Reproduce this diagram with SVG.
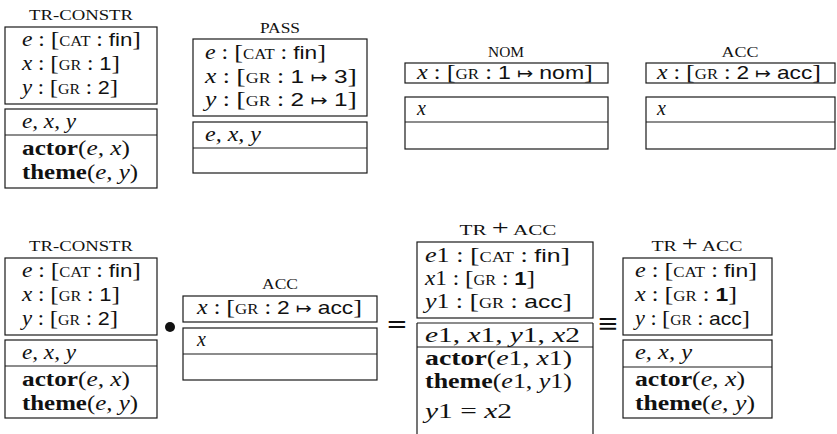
<svg xmlns="http://www.w3.org/2000/svg" width="837" height="434" viewBox="0 0 837 434">
<style>
rect, line.bx { fill:none; stroke:#1a1a1a; stroke-width:1.2; }
.t { font-family:"Liberation Serif", serif; font-size:20px; fill:#111; }
.i { font-style:italic; }
.sc { font-size:14px; }
.sf { font-family:"Liberation Sans", sans-serif; font-size:19px; }
.ar { font-family:"DejaVu Sans", sans-serif; font-size:16px; }
.b { font-weight:bold; }
.br { font-size:22px; }
.lbl { font-family:"Liberation Serif", serif; font-size:14px; fill:#111; text-anchor:middle; }
.op { font-family:"DejaVu Serif", serif; font-size:26px; fill:#111; text-anchor:middle; }
</style>

<!-- top row -->
<g id="tr-constr-1">
  <text class="lbl" x="81" y="20" textLength="104" lengthAdjust="spacingAndGlyphs">TR-CONSTR</text>
  <rect x="5" y="27" width="152" height="77"/>
  <rect x="5" y="109" width="152" height="79"/>
  <line class="bx" x1="5" y1="135" x2="157" y2="135"/>
  <text class="t" x="22" y="46" textLength="119" lengthAdjust="spacingAndGlyphs"><tspan class="i">e</tspan> : <tspan class="br">[</tspan><tspan class="sc">CAT</tspan> : <tspan class="sf">fin</tspan><tspan class="br">]</tspan></text>
  <text class="t" x="22" y="70" textLength="98" lengthAdjust="spacingAndGlyphs"><tspan class="i">x</tspan> : <tspan class="br">[</tspan><tspan class="sc">GR</tspan> : <tspan class="sf">1</tspan><tspan class="br">]</tspan></text>
  <text class="t" x="22" y="94" textLength="96" lengthAdjust="spacingAndGlyphs"><tspan class="i">y</tspan> : <tspan class="br">[</tspan><tspan class="sc">GR</tspan> : <tspan class="sf">2</tspan><tspan class="br">]</tspan></text>
  <text class="t i" x="22" y="128" textLength="54" lengthAdjust="spacingAndGlyphs">e, x, y</text>
  <text class="t" x="22" y="155" textLength="108" lengthAdjust="spacingAndGlyphs"><tspan class="b">actor</tspan>(<tspan class="i">e, x</tspan>)</text>
  <text class="t" x="22" y="179" textLength="116" lengthAdjust="spacingAndGlyphs"><tspan class="b">theme</tspan>(<tspan class="i">e, y</tspan>)</text>
</g>

<g id="pass">
  <text class="lbl" x="280" y="33" textLength="40" lengthAdjust="spacingAndGlyphs">PASS</text>
  <rect x="193" y="39" width="174" height="77"/>
  <rect x="193" y="122" width="174" height="51"/>
  <line class="bx" x1="193" y1="148" x2="367" y2="148"/>
  <text class="t" x="205" y="59" textLength="121" lengthAdjust="spacingAndGlyphs"><tspan class="i">e</tspan> : <tspan class="br">[</tspan><tspan class="sc">CAT</tspan> : <tspan class="sf">fin</tspan><tspan class="br">]</tspan></text>
  <text class="t" x="205" y="83" textLength="152" lengthAdjust="spacingAndGlyphs"><tspan class="i">x</tspan> : <tspan class="br">[</tspan><tspan class="sc">GR</tspan> : <tspan class="sf">1</tspan> <tspan class="ar">↦</tspan> <tspan class="sf">3</tspan><tspan class="br">]</tspan></text>
  <text class="t" x="205" y="106" textLength="152" lengthAdjust="spacingAndGlyphs"><tspan class="i">y</tspan> : <tspan class="br">[</tspan><tspan class="sc">GR</tspan> : <tspan class="sf">2</tspan> <tspan class="ar">↦</tspan> <tspan class="sf">1</tspan><tspan class="br">]</tspan></text>
  <text class="t i" x="205" y="141" textLength="56" lengthAdjust="spacingAndGlyphs">e, x, y</text>
</g>

<g id="nom">
  <text class="lbl" x="506" y="57" textLength="36" lengthAdjust="spacingAndGlyphs">NOM</text>
  <rect x="405" y="63" width="203" height="20"/>
  <rect x="405" y="97" width="203" height="52"/>
  <line class="bx" x1="405" y1="122" x2="608" y2="122"/>
  <text class="t" x="417" y="79" textLength="176" lengthAdjust="spacingAndGlyphs"><tspan class="i">x</tspan> : <tspan class="br">[</tspan><tspan class="sc">GR</tspan> : <tspan class="sf">1</tspan> <tspan class="ar">↦</tspan> <tspan class="sf">nom</tspan><tspan class="br">]</tspan></text>
  <text class="t i" x="417" y="115">x</text>
</g>

<g id="acc-1">
  <text class="lbl" x="740" y="57" textLength="37" lengthAdjust="spacingAndGlyphs">ACC</text>
  <rect x="646" y="63" width="189" height="20"/>
  <rect x="646" y="97" width="189" height="52"/>
  <line class="bx" x1="646" y1="122" x2="835" y2="122"/>
  <text class="t" x="657" y="79" textLength="164" lengthAdjust="spacingAndGlyphs"><tspan class="i">x</tspan> : <tspan class="br">[</tspan><tspan class="sc">GR</tspan> : <tspan class="sf">2</tspan> <tspan class="ar">↦</tspan> <tspan class="sf">acc</tspan><tspan class="br">]</tspan></text>
  <text class="t i" x="657" y="115">x</text>
</g>

<!-- bottom row -->
<g id="tr-constr-2">
  <text class="lbl" x="81" y="251" textLength="104" lengthAdjust="spacingAndGlyphs">TR-CONSTR</text>
  <rect x="5" y="258" width="152" height="77"/>
  <rect x="5" y="340" width="152" height="78"/>
  <line class="bx" x1="5" y1="366" x2="157" y2="366"/>
  <text class="t" x="22" y="277" textLength="119" lengthAdjust="spacingAndGlyphs"><tspan class="i">e</tspan> : <tspan class="br">[</tspan><tspan class="sc">CAT</tspan> : <tspan class="sf">fin</tspan><tspan class="br">]</tspan></text>
  <text class="t" x="22" y="301" textLength="98" lengthAdjust="spacingAndGlyphs"><tspan class="i">x</tspan> : <tspan class="br">[</tspan><tspan class="sc">GR</tspan> : <tspan class="sf">1</tspan><tspan class="br">]</tspan></text>
  <text class="t" x="22" y="325" textLength="96" lengthAdjust="spacingAndGlyphs"><tspan class="i">y</tspan> : <tspan class="br">[</tspan><tspan class="sc">GR</tspan> : <tspan class="sf">2</tspan><tspan class="br">]</tspan></text>
  <text class="t i" x="22" y="359" textLength="54" lengthAdjust="spacingAndGlyphs">e, x, y</text>
  <text class="t" x="22" y="386" textLength="108" lengthAdjust="spacingAndGlyphs"><tspan class="b">actor</tspan>(<tspan class="i">e, x</tspan>)</text>
  <text class="t" x="22" y="410" textLength="116" lengthAdjust="spacingAndGlyphs"><tspan class="b">theme</tspan>(<tspan class="i">e, y</tspan>)</text>
</g>

<g id="operators">
  <circle cx="170" cy="327" r="5" fill="#111"/>
  <text class="op" x="397" y="333">=</text>
  <text class="op" x="608" y="332">≡</text>
</g>

<g id="acc-2">
  <text class="lbl" x="280" y="289" textLength="36" lengthAdjust="spacingAndGlyphs">ACC</text>
  <rect x="183" y="296" width="194" height="26"/>
  <rect x="183" y="328" width="194" height="52"/>
  <line class="bx" x1="183" y1="354" x2="377" y2="354"/>
  <text class="t" x="197" y="314" textLength="165" lengthAdjust="spacingAndGlyphs"><tspan class="i">x</tspan> : <tspan class="br">[</tspan><tspan class="sc">GR</tspan> : <tspan class="sf">2</tspan> <tspan class="ar">↦</tspan> <tspan class="sf">acc</tspan><tspan class="br">]</tspan></text>
  <text class="t i" x="197" y="346">x</text>
</g>

<g id="tr-acc-1">
  <text class="lbl" x="508" y="235" textLength="97" lengthAdjust="spacingAndGlyphs">TR <tspan font-size="20">+</tspan> ACC</text>
  <rect x="417" y="242" width="176" height="76"/>
  <line class="bx" x1="417" y1="323" x2="593" y2="323"/>
  <line class="bx" x1="417" y1="347" x2="593" y2="347"/>
  <line class="bx" x1="417" y1="323" x2="417" y2="434"/>
  <line class="bx" x1="593" y1="323" x2="593" y2="434"/>
  <text class="t" x="425" y="262" textLength="145" lengthAdjust="spacingAndGlyphs"><tspan class="i">e</tspan>1 : <tspan class="br">[</tspan><tspan class="sc">CAT</tspan> : <tspan class="sf">fin</tspan><tspan class="br">]</tspan></text>
  <text class="t" x="425" y="285" textLength="110" lengthAdjust="spacingAndGlyphs"><tspan class="i">x</tspan>1 : <tspan class="br">[</tspan><tspan class="sc">GR</tspan> : <tspan class="sf b">1</tspan><tspan class="br">]</tspan></text>
  <text class="t" x="425" y="308" textLength="147" lengthAdjust="spacingAndGlyphs"><tspan class="i">y</tspan>1 : <tspan class="br">[</tspan><tspan class="sc">GR</tspan> : <tspan class="sf">acc</tspan><tspan class="br">]</tspan></text>
  <text class="t" x="425" y="342" textLength="155" lengthAdjust="spacingAndGlyphs"><tspan class="i">e</tspan>1, <tspan class="i">x</tspan>1, <tspan class="i">y</tspan>1, <tspan class="i">x</tspan>2</text>
  <text class="t" x="425" y="365" textLength="147" lengthAdjust="spacingAndGlyphs"><tspan class="b">actor</tspan>(<tspan class="i">e</tspan>1, <tspan class="i">x</tspan>1)</text>
  <text class="t" x="425" y="388" textLength="147" lengthAdjust="spacingAndGlyphs"><tspan class="b">theme</tspan>(<tspan class="i">e</tspan>1, <tspan class="i">y</tspan>1)</text>
  <text class="t" x="425" y="418" textLength="87" lengthAdjust="spacingAndGlyphs"><tspan class="i">y</tspan>1 = <tspan class="i">x</tspan>2</text>
</g>

<g id="tr-acc-2">
  <text class="lbl" x="697" y="251" textLength="91" lengthAdjust="spacingAndGlyphs">TR <tspan font-size="20">+</tspan> ACC</text>
  <rect x="623" y="258" width="149" height="77"/>
  <rect x="623" y="340" width="149" height="78"/>
  <line class="bx" x1="623" y1="367" x2="772" y2="367"/>
  <text class="t" x="635" y="277" textLength="122" lengthAdjust="spacingAndGlyphs"><tspan class="i">e</tspan> : <tspan class="br">[</tspan><tspan class="sc">CAT</tspan> : <tspan class="sf">fin</tspan><tspan class="br">]</tspan></text>
  <text class="t" x="635" y="301" textLength="102" lengthAdjust="spacingAndGlyphs"><tspan class="i">x</tspan> : <tspan class="br">[</tspan><tspan class="sc">GR</tspan> : <tspan class="sf b">1</tspan><tspan class="br">]</tspan></text>
  <text class="t" x="635" y="325" textLength="115" lengthAdjust="spacingAndGlyphs"><tspan class="i">y</tspan> : <tspan class="br">[</tspan><tspan class="sc">GR</tspan> : <tspan class="sf">acc</tspan><tspan class="br">]</tspan></text>
  <text class="t i" x="635" y="359" textLength="57" lengthAdjust="spacingAndGlyphs">e, x, y</text>
  <text class="t" x="635" y="386" textLength="110" lengthAdjust="spacingAndGlyphs"><tspan class="b">actor</tspan>(<tspan class="i">e, x</tspan>)</text>
  <text class="t" x="635" y="410" textLength="120" lengthAdjust="spacingAndGlyphs"><tspan class="b">theme</tspan>(<tspan class="i">e, y</tspan>)</text>
</g>
</svg>
